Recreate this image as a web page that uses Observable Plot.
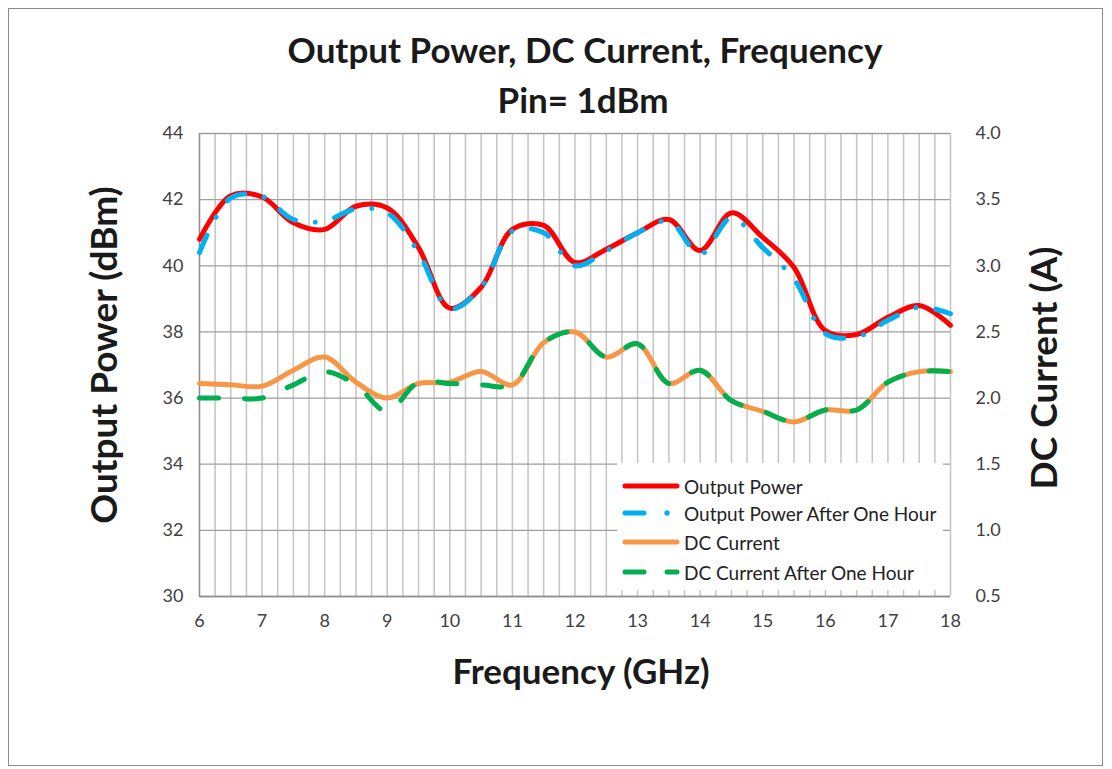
<!DOCTYPE html>
<html>
<head>
<meta charset="utf-8">
<script src="https://cdn.jsdelivr.net/npm/d3@7"></script>
<script src="https://cdn.jsdelivr.net/npm/@observablehq/plot@0.6"></script>
<style>
  html, body { margin: 0; padding: 0; background: #fff; }
  #wrap { position: relative; width: 1112px; height: 769px; overflow: hidden; }
  #border { position: absolute; left: 8px; top: 8px; width: 1095px; height: 758px; border: 1px solid #8c8c8c; box-sizing: border-box; pointer-events: none; }
  #chart { position: absolute; left: 0; top: 0; }
  #legend { position: absolute; left: 617px; top: 463px; width: 326px; height: 127px; background: #fff;
            font-family: Lato, "Open Sans", sans-serif; font-size: 19px; color: #222; }
  .row { position: absolute; left: 0; height: 26px; display: flex; align-items: center; white-space: nowrap; }
  .row svg { margin-left: 5px; margin-right: 4px; }
</style>
</head>
<body>
<div id="wrap">
  <div id="chart"></div>
  <div id="legend"></div>
  <div id="border"></div>
</div>
<script>
// ---- data ----
const freq = [6, 6.5, 7, 7.5, 8, 8.5, 9, 9.5, 10, 10.5, 11, 11.5, 12, 12.5, 13, 13.5, 14, 14.5, 15, 15.5, 16, 16.5, 17, 17.5, 18];
const outputPower =          [40.8, 42.12, 42.08, 41.3, 41.1, 41.8, 41.75, 40.55, 38.72, 39.35, 41.1, 41.22, 40.1, 40.5, 41.0, 41.4, 40.46, 41.6, 40.86, 39.95, 38.04, 37.92, 38.44, 38.8, 38.2];
const outputPowerAfterHour = [40.4, 42.05, 42.1, 41.4, 41.35, 41.72, 41.6, 40.4, 38.7, 39.35, 41.05, 41.0, 40.0, 40.45, 41.0, 41.35, 40.35, 41.45, 40.55, 39.6, 37.95, 37.85, 38.35, 38.75, 38.55];
const dcCurrent =            [2.11, 2.1, 2.09, 2.21, 2.31, 2.12, 2.0, 2.11, 2.12, 2.2, 2.1, 2.42, 2.5, 2.31, 2.41, 2.11, 2.21, 1.98, 1.9, 1.82, 1.91, 1.91, 2.12, 2.2, 2.2];
const dcCurrentAfterHour =   [2.0, 2.0, 2.0, 2.1, 2.2, 2.1, 1.9, 2.12, 2.11, 2.1, 2.1, 2.42, 2.5, 2.31, 2.41, 2.11, 2.21, 1.98, 1.9, 1.82, 1.91, 1.91, 2.12, 2.2, 2.2];
const xTicks = [6, 7, 8, 9, 10, 11, 12, 13, 14, 15, 16, 17, 18];
const yTicksLeft = [30, 32, 34, 36, 38, 40, 42, 44];
const yTicksRight = [0.5, 1.0, 1.5, 2.0, 2.5, 3.0, 3.5, 4.0];
const seriesNames = ["Output Power", "Output Power After One Hour", "DC Current", "DC Current After One Hour"];

// current (A) -> left-axis units (dBm) : 0.5 A ↔ 30, 4.0 A ↔ 44
const aToDbm = a => 30 + (a - 0.5) * 4;

const rows = (vals, toY) => freq.map((f, i) => ({f, v: toY ? toY(vals[i]) : vals[i]}));
const red = rows(outputPower), blue = rows(outputPowerAfterHour);
const orange = rows(dcCurrent, aToDbm), green = rows(dcCurrentAfterHour, aToDbm);

const FONT = 'Lato, "Open Sans", sans-serif';
const minor = d3.range(6, 18.001, 0.25);

const chart = Plot.plot({
  width: 1112, height: 769,
  marginLeft: 199, marginRight: 162, marginTop: 133, marginBottom: 173,
  style: {fontFamily: FONT, background: "transparent", overflow: "visible"},
  x: {domain: [6, 18]},
  y: {domain: [30, 44]},
  marks: [
    Plot.gridX(minor, {stroke: "#c4c4c4", strokeWidth: 1.5, strokeOpacity: 1}),
    Plot.gridY(yTicksLeft, {stroke: "#9e9e9e", strokeWidth: 1.3, strokeOpacity: 1}),
    Plot.ruleX([6], {stroke: "#8c8c8c", strokeWidth: 1.3}),
    Plot.ruleY([30], {stroke: "#8c8c8c", strokeWidth: 1.3}),
    Plot.axisX(xTicks, {tickSize: 0, tickPadding: 18, fontSize: 18, fill: "#404040", label: null}),
    Plot.axisY(yTicksLeft, {anchor: "left", tickSize: 0, tickPadding: 16, fontSize: 18, fill: "#404040", label: null}),
    Plot.axisY(yTicksRight.map(aToDbm), {anchor: "right", tickSize: 0, tickPadding: 25, fontSize: 18, fill: "#404040", label: null,
      tickFormat: d => ((d - 30) / 4 + 0.5).toFixed(1)}),
    Plot.line(red, {x: "f", y: "v", stroke: "#ff0000", strokeWidth: 5, curve: "catmull-rom"}),
    Plot.line(blue, {x: "f", y: "v", stroke: "#00b0f0", strokeWidth: 5, curve: "catmull-rom",
      strokeDasharray: "19,20,0.01,20", strokeLinecap: "round"}),
    Plot.line(orange, {x: "f", y: "v", stroke: "#f79646", strokeWidth: 5, curve: "catmull-rom"}),
    Plot.line(green, {x: "f", y: "v", stroke: "#00b050", strokeWidth: 5, curve: "catmull-rom",
      strokeDasharray: "19,26", strokeLinecap: "round"}),
    // titles
    Plot.text(["Output Power, DC Current, Frequency"], {frameAnchor: "top", dx: 10, dy: -95, fontSize: 35, fontWeight: "bold", fill: "#1a1a1a"}),
    Plot.text(["Pin= 1dBm"], {frameAnchor: "top", dx: 8, dy: -45, fontSize: 35, fontWeight: "bold", fill: "#1a1a1a"}),
    Plot.text(["Frequency (GHz)"], {frameAnchor: "bottom", dx: 6, dy: 87, fontSize: 35, fontWeight: "bold", fill: "#1a1a1a"}),
    Plot.text(["Output Power (dBm)"], {frameAnchor: "left", textAnchor: "middle", dx: -94, dy: -10, rotate: -90, fontSize: 37, fontWeight: "bold", fill: "#1a1a1a"}),
    Plot.text(["DC Current (A)"], {frameAnchor: "right", textAnchor: "middle", dx: 95, dy: 3, rotate: -90, fontSize: 37, fontWeight: "bold", fill: "#1a1a1a"})
  ]
});
document.getElementById("chart").appendChild(chart);

// legend
const samples = [
  `<line x1="3" y1="7" x2="55" y2="7" stroke="#ff0000" stroke-width="5" stroke-linecap="round"/>`,
  `<line x1="3" y1="7" x2="22" y2="7" stroke="#00b0f0" stroke-width="5" stroke-linecap="round"/><circle cx="45" cy="7" r="2.7" fill="#00b0f0"/>`,
  `<line x1="3" y1="7" x2="55" y2="7" stroke="#f79646" stroke-width="5" stroke-linecap="round"/>`,
  `<line x1="3" y1="7" x2="22" y2="7" stroke="#00b050" stroke-width="5" stroke-linecap="round"/><line x1="45" y1="7" x2="55" y2="7" stroke="#00b050" stroke-width="5" stroke-linecap="round"/>`
];
const tops = [10, 37, 66, 96];
const legend = document.getElementById("legend");
seriesNames.forEach((name, i) => {
  const r = document.createElement("div");
  r.className = "row";
  r.style.top = tops[i] + "px";
  r.innerHTML = `<svg width="58" height="14">${samples[i]}</svg><span>${name}</span>`;
  legend.appendChild(r);
});
</script>
</body>
</html>
